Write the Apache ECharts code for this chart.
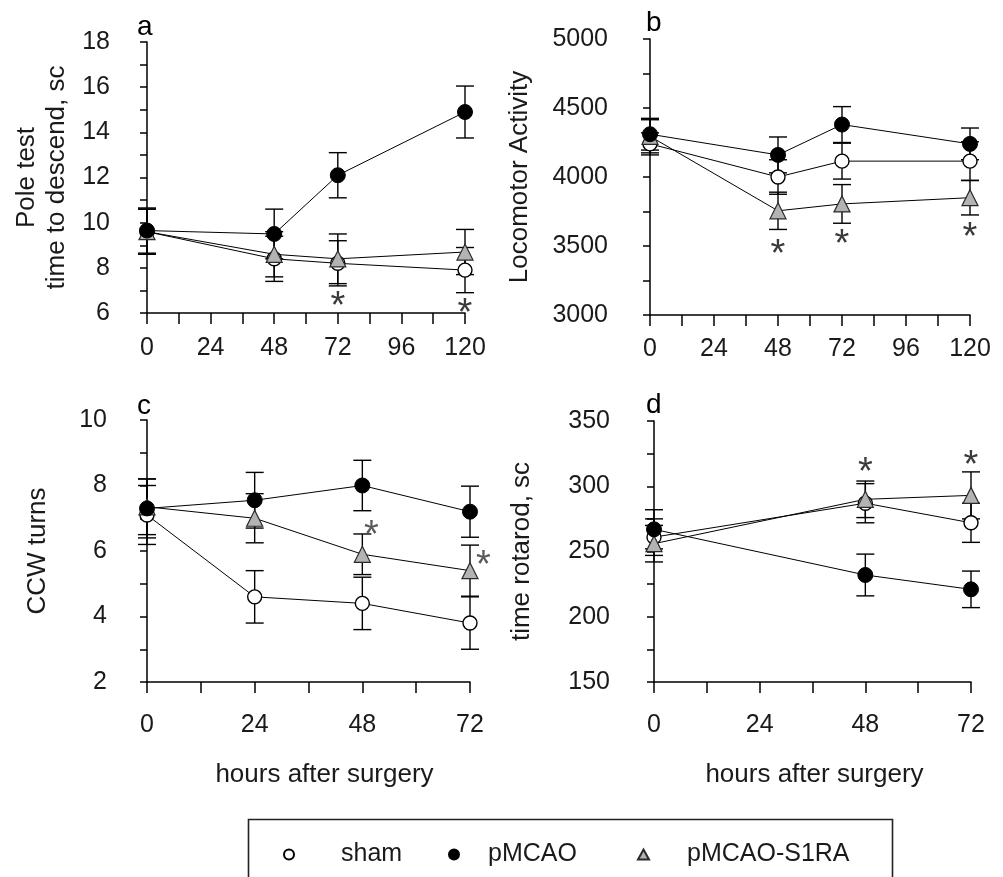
<!DOCTYPE html>
<html>
<head>
<meta charset="utf-8">
<script src="https://cdn.jsdelivr.net/npm/echarts@6/dist/echarts.min.js"></script>
<style>
html,body{margin:0;padding:0;background:#fff;}
#chart{width:1003px;height:877px;}
</style>
</head>
<body>
<div id="chart"></div>
<script>
// ---------- data ----------
const seriesNames = ['sham', 'pMCAO', 'pMCAO-S1RA'];

// panel a: pole test
const poleHours = [0, 48, 72, 120];
const poleSham = [9.6, 8.4, 8.2, 7.9];
const poleShamErr = [1.0, 1.0, 1.0, 1.0];
const polePMCAO = [9.65, 9.5, 12.1, 14.9];
const polePMCAOErr = [1.0, 1.1, 1.0, 1.15];
const poleS1RA = [9.6, 8.6, 8.4, 8.7];
const poleS1RAErr = [1.0, 1.0, 1.1, 1.0];
const poleStars = [[72, 6.66], [120, 6.35]];

// panel b: locomotor activity
const locoHours = [0, 48, 72, 120];
const locoSham = [4240, 4000, 4115, 4115];
const locoShamErr = [80, 125, 130, 140];
const locoPMCAO = [4310, 4160, 4380, 4240];
const locoPMCAOErr = [115, 130, 130, 115];
const locoS1RA = [4295, 3755, 3805, 3850];
const locoS1RAErr = [120, 135, 140, 125];
const locoStars = [[48, 3495], [72, 3568], [120, 3617]];

// panel c: CCW turns
const turnHours = [0, 24, 48, 72];
const turnSham = [7.1, 4.6, 4.4, 3.8];
const turnShamErr = [0.9, 0.8, 0.8, 0.8];
const turnPMCAO = [7.3, 7.55, 8.0, 7.2];
const turnPMCAOErr = [0.9, 0.85, 0.77, 0.78];
const turnS1RA = [7.35, 7.0, 5.9, 5.4];
const turnS1RAErr = [0.85, 0.75, 0.62, 0.78];
const turnStars = [[50, 6.73], [75, 5.81]];

// panel d: rotarod
const rotaHours = [0, 48, 72];
const rotaSham = [261, 287, 272];
const rotaShamErr = [14, 15, 15];
const rotaPMCAO = [267, 232, 221];
const rotaPMCAOErr = [15, 16, 14];
const rotaS1RA = [256, 290, 293];
const rotaS1RAErr = [14, 14, 18];
const rotaStars = [[48, 317], [72, 322]];

// axis ticks / titles
const panelLetters = ['a', 'b', 'c', 'd'];
const yTitles = ['Pole test\ntime to descend, sc', 'Locomotor Activity', 'CCW turns', 'time rotarod, sc'];
const xTitle = 'hours after surgery';

// ---------- styling / layout ----------
const FONT = "'Liberation Sans', Arial, sans-serif";
const TXT = '#1a1a1a';

const panels = [
  { grid: {left:147, top:42, width:318, height:271}, yOff:14, ymin:6, ymax:18, yint:2, xmax:120, ylm:23, xlm:23, nameGap:61,
    hours: poleHours, vals:[poleSham, polePMCAO, poleS1RA], errs:[poleShamErr, polePMCAOErr, poleS1RAErr], stars: poleStars, starColor:'#3a3a3a', xName:false },
  { grid: {left:650, top:39, width:320, height:276}, yOff:15, ymin:3000, ymax:5000, yint:500, xmax:120, ylm:27, xlm:22, nameGap:100,
    hours: locoHours, vals:[locoSham, locoPMCAO, locoS1RA], errs:[locoShamErr, locoPMCAOErr, locoS1RAErr], stars: locoStars, starColor:'#3a3a3a', xName:false },
  { grid: {left:147, top:420, width:323, height:262}, yOff:14, ymin:2, ymax:10, yint:2, xmax:72, ylm:26, xlm:31, nameGap:80,
    hours: turnHours, vals:[turnSham, turnPMCAO, turnS1RA], errs:[turnShamErr, turnPMCAOErr, turnS1RAErr], stars: turnStars, starColor:'#5a5a5a', xName:true, xNamePad:32 },
  { grid: {left:654, top:421, width:317, height:261}, yOff:17, ymin:150, ymax:350, yint:50, xmax:72, ylm:27, xlm:31, nameGap:100,
    hours: rotaHours, vals:[rotaSham, rotaPMCAO, rotaS1RA], errs:[rotaShamErr, rotaPMCAOErr, rotaS1RAErr], stars: rotaStars, starColor:'#3a3a3a', xName:true, xNamePad:4 }
];
const letterPos = [[137, 13], [646, 9], [137, 392], [646, 391]];

const markerStyles = [
  { symbol:'circle', symbolSize:14, itemStyle:{color:'#ffffff', borderColor:'#000', borderWidth:1.4} },
  { symbol:'circle', symbolSize:15, itemStyle:{color:'#000000', borderColor:'#000', borderWidth:1} },
  { symbol:'triangle', symbolSize:16, itemStyle:{color:'#b3b3b3', borderColor:'#2a2a2a', borderWidth:1.2} }
];

const grids = [], xAxes = [], yAxes = [], series = [], titles = [];

function errRender(params, api) {
  const x = api.value(0), y = api.value(1), e = api.value(2);
  const t = api.coord([x, y + e]);
  const b = api.coord([x, y - e]);
  const w = 9;
  const st = {stroke:'#000', lineWidth:1.4};
  return {type:'group', children:[
    {type:'line', shape:{x1:t[0], y1:t[1], x2:b[0], y2:b[1]}, style:st},
    {type:'line', shape:{x1:t[0]-w, y1:t[1], x2:t[0]+w, y2:t[1]}, style:st},
    {type:'line', shape:{x1:b[0]-w, y1:b[1], x2:b[0]+w, y2:b[1]}, style:st}
  ]};
}

panels.forEach((p, i) => {
  grids.push(Object.assign({containLabel:false}, p.grid));
  xAxes.push({
    type:'value', gridIndex:i, min:0, max:p.xmax, interval:24,
    axisLine:{show:true, onZero:false, lineStyle:{color:'#000', width:1.5}},
    axisTick:{show:true, inside:false, length:11, lineStyle:{color:'#000', width:1.5}},
    minorTick:{show:true, splitNumber:2, length:11, lineStyle:{color:'#000', width:1.5}},
    splitLine:{show:false},
    axisLabel:{show:true, margin:p.xlm, fontSize:25, fontFamily:FONT, color:TXT},
    name: p.xName ? xTitle : '',
    nameLocation:'middle', nameGap:80,
    nameTextStyle:{fontSize:26, fontFamily:FONT, color:TXT, padding:[0,0,0,p.xNamePad||0]}
  });
  yAxes.push({
    type:'value', gridIndex:i, min:p.ymin, max:p.ymax, interval:p.yint, offset:p.yOff,
    axisLine:{show:true, lineStyle:{color:'#000', width:1.5}},
    axisTick:{show:true, inside:false, length:7, lineStyle:{color:'#000', width:1.5}},
    minorTick:{show:true, splitNumber:2, length:7, lineStyle:{color:'#000', width:1.5}},
    splitLine:{show:false},
    axisLabel:{show:true, margin:p.ylm, fontSize:25, fontFamily:FONT, color:TXT,
      formatter: v => String(v)},
    name: yTitles[i], nameLocation:'middle', nameGap:p.nameGap,
    nameTextStyle:{fontSize:26, fontFamily:FONT, color:TXT, lineHeight:30}
  });
  // error bars
  p.vals.forEach((vals, k) => {
    series.push({
      type:'custom', xAxisIndex:i, yAxisIndex:i, silent:true, z:2,
      data: p.hours.map((h, j) => [h, vals[j], p.errs[k][j]]),
      renderItem: errRender
    });
  });
  // lines with markers
  [0, 2, 1].forEach(k => {
    series.push(Object.assign({
      type:'line', name:seriesNames[k], xAxisIndex:i, yAxisIndex:i, z:3,
      data: p.hours.map((h, j) => [h, p.vals[k][j]]),
      lineStyle:{color:'#000', width:1}, showAllSymbol:true
    }, markerStyles[k]));
  });
  // significance asterisks
  series.push({
    type:'custom', xAxisIndex:i, yAxisIndex:i, silent:true, z:4,
    data: p.stars,
    renderItem: (params, api) => {
      const c = api.coord([api.value(0), api.value(1)]);
      return {type:'text', style:{text:'*', x:c[0], y:c[1] + 9, fill:p.starColor,
        font:'38px ' + FONT, align:'center', verticalAlign:'middle'}};
    }
  });
  titles.push({text:panelLetters[i], left:letterPos[i][0], top:letterPos[i][1], padding:0,
    textStyle:{fontSize:28, fontWeight:'normal', fontFamily:FONT, color:'#000'}});
});

const legendBase = {orient:'horizontal', itemHeight:10, itemWidth:10, top:842, padding:0, selectedMode:false};
function legendText(pad) {
  return {fontSize:25, fontFamily:FONT, color:TXT, padding:[0,0,0,pad]};
}
const legends = [
  Object.assign({}, legendBase, {left:283, textStyle:legendText(42), data:[{name:'sham', icon:'circle'}]}),
  Object.assign({}, legendBase, {left:448, textStyle:legendText(24), data:[{name:'pMCAO', icon:'circle'}]}),
  Object.assign({}, legendBase, {left:637, itemWidth:11, textStyle:legendText(33), data:[{name:'pMCAO-S1RA', icon:'triangle'}]})
];

const chart = echarts.init(document.getElementById('chart'), null, {renderer:'canvas'});
chart.setOption({
  animation:false,
  backgroundColor:'#ffffff',
  title: titles,
  grid: grids,
  xAxis: xAxes,
  yAxis: yAxes,
  legend: legends,
  graphic: [{type:'rect', left:246, top:817, shape:{x:0, y:0, width:644, height:80},
    style:{fill:'none', stroke:'#222', lineWidth:1.6}, silent:true}],
  series: series
});
</script>
</body>
</html>
